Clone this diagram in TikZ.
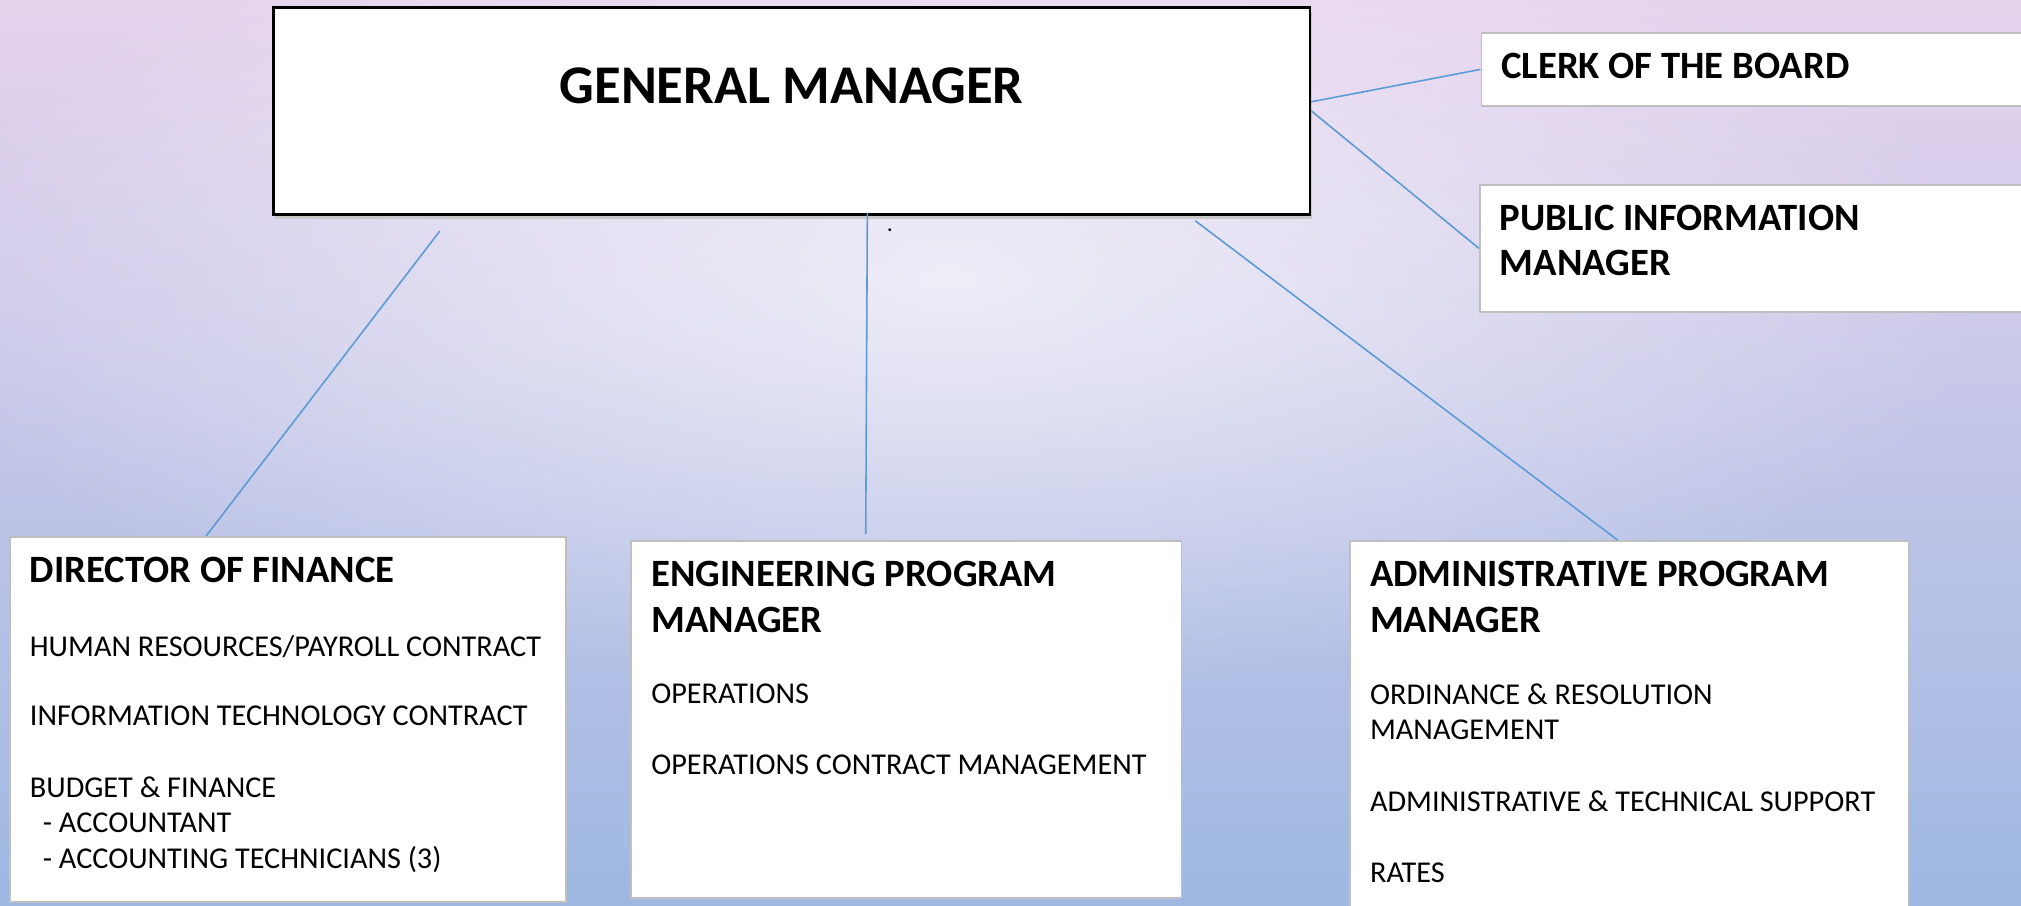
\documentclass[tikz,border=0pt]{standalone}
\usepackage{fontspec}
\setmainfont{Carlito}
\usetikzlibrary{positioning,fadings,shadows}

\definecolor{linkblue}{HTML}{5B9BD5}
\definecolor{boxgrey}{HTML}{BFBFBF}
\definecolor{bgtop}{HTML}{E6D3EE}
\definecolor{bgmid}{HTML}{CAC5EA}
\definecolor{bgbot}{HTML}{9EB8E2}

\tikzfading[name=glowfade, inner color=transparent!35, outer color=transparent!100]

\newcommand{\gmfont}{\fontsize{15.5pt}{18pt}\selectfont\bfseries}
\newcommand{\hdr}{\fontsize{11pt}{0.457cm}\selectfont\bfseries}
\newcommand{\bodytxt}{\fontsize{8.6pt}{0.355cm}\selectfont}

\tikzset{
  gmbox/.style={draw=black, line width=0.75pt, fill=white, anchor=north west,
    minimum width=10.36cm, inner sep=0pt, text height=0.957cm, text depth=1.113cm,
    font=\gmfont, drop shadow={shadow xshift=0.02cm, shadow yshift=-0.05cm, fill=black!22, opacity=1}},
  unit/.style={draw=boxgrey, line width=0.5pt, fill=white, anchor=north west,
    align=flush left, inner xsep=0.2cm, inner ysep=0pt, text height=0.455cm, font=\bodytxt},
  link/.style={draw=linkblue, line width=0.45pt},
}

\begin{document}
\begin{tikzpicture}[x=0.01cm, y=-0.01cm]
  \useasboundingbox (0,0) rectangle (2021,906);
  \clip (0,0) rectangle (2021,906);
  \shade[top color=bgtop, middle color=bgmid, bottom color=bgbot] (0,0) rectangle (2021,906);
  \fill[white, path fading=glowfade] (950,280) ellipse (1050 and 420);

  \node[gmbox] (gm) at (272,6) {GENERAL MANAGER};
  \node[unit, font=\hdr, text width=5.2cm, text height=0.453cm, text depth=0.277cm] (clerk) at (1480.5,32) {CLERK OF THE BOARD};
  \node[unit, font=\hdr, text width=5.2cm, text height=0.453cm, text depth=0.817cm] (pim) at (1479,184) {PUBLIC INFORMATION\\MANAGER};

  \node[unit, text width=5.16cm, text height=0.457cm, text depth=3.19cm] (dof) at (9,536) {%
    {\hdr DIRECTOR OF FINANCE}\\[0.388cm]
    HUMAN RESOURCES/PAYROLL CONTRACT\\[0.335cm]
    INFORMATION TECHNOLOGY CONTRACT\\[0.355cm]
    BUDGET \& FINANCE\\
    \hspace*{0.13cm}- ACCOUNTANT\\
    \hspace*{0.13cm}- ACCOUNTING TECHNICIANS (3)};
  \node[unit, text width=5.1cm, text height=0.457cm, text depth=3.11cm] (epm) at (630.4,540) {%
    {\hdr ENGINEERING PROGRAM\\[0.102cm] MANAGER}\\[0.361cm]
    OPERATIONS\\[0.35cm]
    OPERATIONS CONTRACT MANAGEMENT};
  \node[unit, text width=5.18cm, text height=0.457cm, text depth=3.4cm] (apm) at (1349.2,540) {%
    {\hdr ADMINISTRATIVE PROGRAM\\[0.102cm] MANAGER}\\[0.365cm]
    ORDINANCE \& RESOLUTION\\
    MANAGEMENT\\[0.362cm]
    ADMINISTRATIVE \& TECHNICAL SUPPORT\\[0.355cm]
    RATES};

  \coordinate (fintop) at ([xshift=1.677cm, yshift=-0.153cm]gm.south west);
  \coordinate (engtop) at ([xshift=5.95cm, yshift=0.03cm]gm.south west);
  \coordinate (admtop) at ([xshift=9.227cm, yshift=-0.05cm]gm.south west);
  \draw[link] (gm.1.8) -- (clerk.west);
  \draw[link] (gm.-0.25) -- (pim.west);
  \draw[link] (fintop) -- ([xshift=1.97cm]dof.north west);
  \draw[link] (engtop) -- ([xshift=2.352cm, yshift=0.06cm]epm.north west);
  \draw[link] (admtop) -- ([xshift=2.681cm]apm.north west);
  \fill ([xshift=0.224cm, yshift=-0.17cm]engtop) circle[radius=0.016cm];
\end{tikzpicture}
\end{document}
